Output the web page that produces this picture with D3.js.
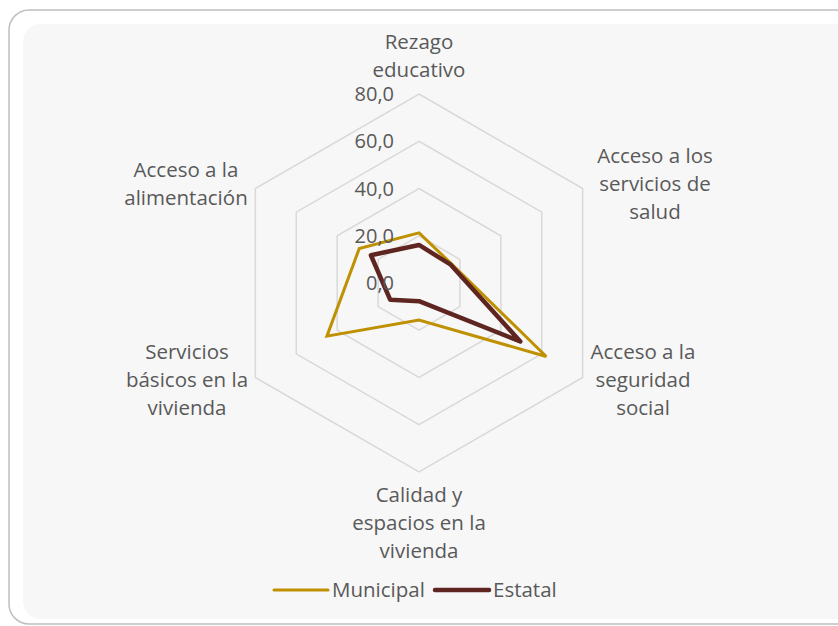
<!DOCTYPE html>
<html>
<head>
<meta charset="utf-8">
<script src="https://cdn.jsdelivr.net/npm/d3@7"></script>
<style>
  body { margin: 0; background: #fff; }
  svg { display: block; font-family: "Open Sans", sans-serif; }
</style>
</head>
<body>
<div id="chart"></div>
<script>
// Données
const categories = [
  ["Rezago", "educativo"],
  ["Acceso a los", "servicios de", "salud"],
  ["Acceso a la", "seguridad", "social"],
  ["Calidad y", "espacios en la", "vivienda"],
  ["Servicios", "básicos en la", "vivienda"],
  ["Acceso a la", "alimentación"]
]
const municipal = [21.2, 16.0, 62.2, 15.7, 45.0, 29.2]
const estatal = [16.1, 15.5, 49.5, 7.7, 14.1, 23.5]
const ticks = [0, 20, 40, 60, 80]
const seriesNames = ["Municipal", "Estatal"]
const colors = ["#BF9000", "#5F2520"]

const width = 838, height = 626
const cx = 419, cy = 283, R = 189

const svg = d3.select("#chart").append("svg")
  .attr("width", width)
  .attr("height", height)

// cadre
svg.append("rect")
  .attr("x", 9).attr("y", 10)
  .attr("width", 860).attr("height", 614)
  .attr("rx", 20)
  .attr("fill", "#fff")
  .attr("stroke", "#BFBFBF")
  .attr("stroke-width", 1.5)

svg.append("rect")
  .attr("x", 23).attr("y", 24)
  .attr("width", 850).attr("height", 595)
  .attr("rx", 18)
  .attr("fill", "#F7F7F7")

// Echelles
const r = d3.scaleLinear().domain([0, 80]).range([0, R])
const angle = d3.scaleLinear().domain([0, categories.length]).range([0, 2 * Math.PI])

const pt = (i, v) => [cx + Math.sin(angle(i)) * r(v), cy - Math.cos(angle(i)) * r(v)]

// grille hexagonale
ticks.filter(t => t > 0).forEach(t => {
  svg.append("path")
    .attr("d", d3.line()(categories.map((c, i) => pt(i, t))) + "Z")
    .attr("fill", "none")
    .attr("stroke", "#D9D9D9")
    .attr("stroke-width", 1.5)
})

// séries
const line = d3.line().curve(d3.curveLinearClosed)
;[municipal, estatal].forEach((s, k) => {
  svg.append("path")
    .attr("d", line(s.map((v, i) => pt(i, v))))
    .attr("fill", "none")
    .attr("stroke", colors[k])
    .attr("stroke-width", k == 0 ? 3 : 4.5)
    .attr("stroke-linejoin", k == 0 ? "miter" : "round")
})

// étiquettes des graduations
svg.append("g")
  .selectAll("text")
  .data(ticks)
  .join("text")
  .attr("x", cx - 25)
  .attr("y", d => cy - r(d) + 7)
  .attr("text-anchor", "end")
  .attr("font-size", 20)
  .attr("fill", "#595959")
  .text(d => d3.format(".1f")(d).replace(".", ","))

// étiquettes des catégories
const labelPos = [[419, 49], [655, 163], [643, 359], [419, 502], [187, 359], [186, 177]]
categories.forEach((lines, i) => {
  const t = svg.append("text")
    .attr("x", labelPos[i][0])
    .attr("y", labelPos[i][1])
    .attr("text-anchor", "middle")
    .attr("font-size", 20.5)
    .attr("fill", "#595959")
  lines.forEach((l, j) => {
    t.append("tspan").attr("x", labelPos[i][0]).attr("dy", j == 0 ? 0 : 28).text(l)
  })
})

// légende
const legX = [274, 435]
seriesNames.forEach((n, k) => {
  svg.append("line")
    .attr("x1", legX[k]).attr("x2", legX[k] + 54)
    .attr("y1", 590).attr("y2", 590)
    .attr("stroke", colors[k])
    .attr("stroke-width", k == 0 ? 3 : 4.5)
    .attr("stroke-linecap", "round")
  svg.append("text")
    .attr("x", legX[k] + 58)
    .attr("y", 597)
    .attr("font-size", 20.5)
    .attr("fill", "#595959")
    .text(n)
})
</script>
</body>
</html>
